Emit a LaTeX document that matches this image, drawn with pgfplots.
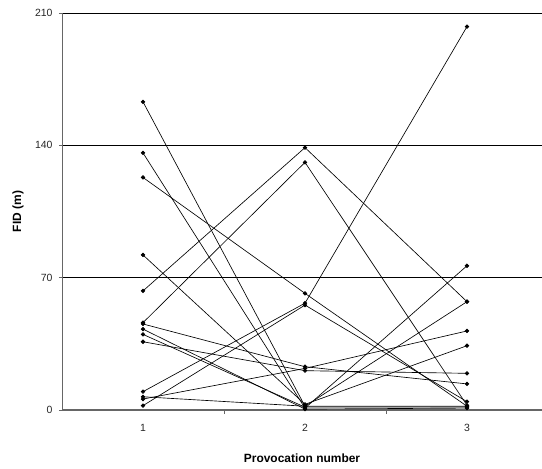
\documentclass[border=0pt]{standalone}
\usepackage{pgfplots}
\pgfplotsset{compat=1.18}
\usepackage{fontspec}
\setmainfont{Liberation Sans}
\pgfplotsset{fid/.style={black, solid, line width=0.65pt, mark=*, mark size=1.8bp, mark options={solid, fill=black}}}
\begin{document}
\begin{tikzpicture}
\begin{axis}[
  scale only axis,
  width=480bp, height=397bp,
  xmin=0.5, xmax=3.463,
  ymin=0, ymax=210,
  axis x line*=bottom,
  axis y line*=left,
  x axis line style={draw=black!60, line width=1.2pt},
  y axis line style={draw=black!60, line width=0.8pt},
  xtick={1,2,3},
  minor xtick={1.5,2.5},
  ytick={0,70,140,210},
  ymajorgrids,
  major grid style={draw=black, line width=0.6pt},
  tick align=outside,
  major tick length=3bp,
  minor tick length=4bp,
  every major x tick/.style={draw=none},
  every minor x tick/.style={draw=black!60, line width=0.6pt},
  every major y tick/.style={draw=black!60, line width=0.6pt},
  tick label style={font=\fontsize{10.5}{12}\selectfont, text=black!85},
  xticklabel style={yshift=-8bp},
  yticklabel style={xshift=-3bp},
  /pgf/number format/assume math mode=true,
  xlabel={Provocation number},
  ylabel={FID (m)},
  label style={font=\bfseries\fontsize{12}{14}\selectfont},
  xlabel style={at={(axis description cs:0.5,0)}, anchor=center, yshift=-48bp},
  ylabel style={at={(axis description cs:0,0.5)}, anchor=center, yshift=44bp},
]
\coordinate (O) at (rel axis cs:0,0);
% one line per individual: provocation 1, 2, 3
\addplot[fid] coordinates {(1,163)  (2,2)     (3,57.3)};
\addplot[fid] coordinates {(1,136)  (2,1)     (3,76.3)};
\addplot[fid] coordinates {(1,123)  (2,61.7)  (3,2)};
\addplot[fid] coordinates {(1,82)   (2,3)     (3,34)};
\addplot[fid] coordinates {(1,63)   (2,138.8) (3,57.3)};
\addplot[fid] coordinates {(1,46.2) (2,131)   (3,2.5)};
\addplot[fid] coordinates {(1,45.5) (2,22.9)  (3,13.8)};
\addplot[fid] coordinates {(1,42.8) (2,0.5)   (3,1)};
\addplot[fid] coordinates {(1,40)   (2,1.5)   (3,1.5)};
\addplot[fid] coordinates {(1,36.1) (2,20.8)  (3,19.4)};
\addplot[fid] coordinates {(1,9.7)  (2,56.5)  (3,202.8)};
\addplot[fid] coordinates {(1,7)    (2,2)     (3,2)};
\addplot[fid] coordinates {(1,5.8)  (2,22)    (3,41.8)};
\addplot[fid] coordinates {(1,2.3)  (2,55.5)  (3,4.4)};
\end{axis}
\pgfresetboundingbox
\path[use as bounding box] ([shift={(-62bp,-59bp)}]O) rectangle ([shift={(480bp,410bp)}]O);
\end{tikzpicture}
\end{document}
